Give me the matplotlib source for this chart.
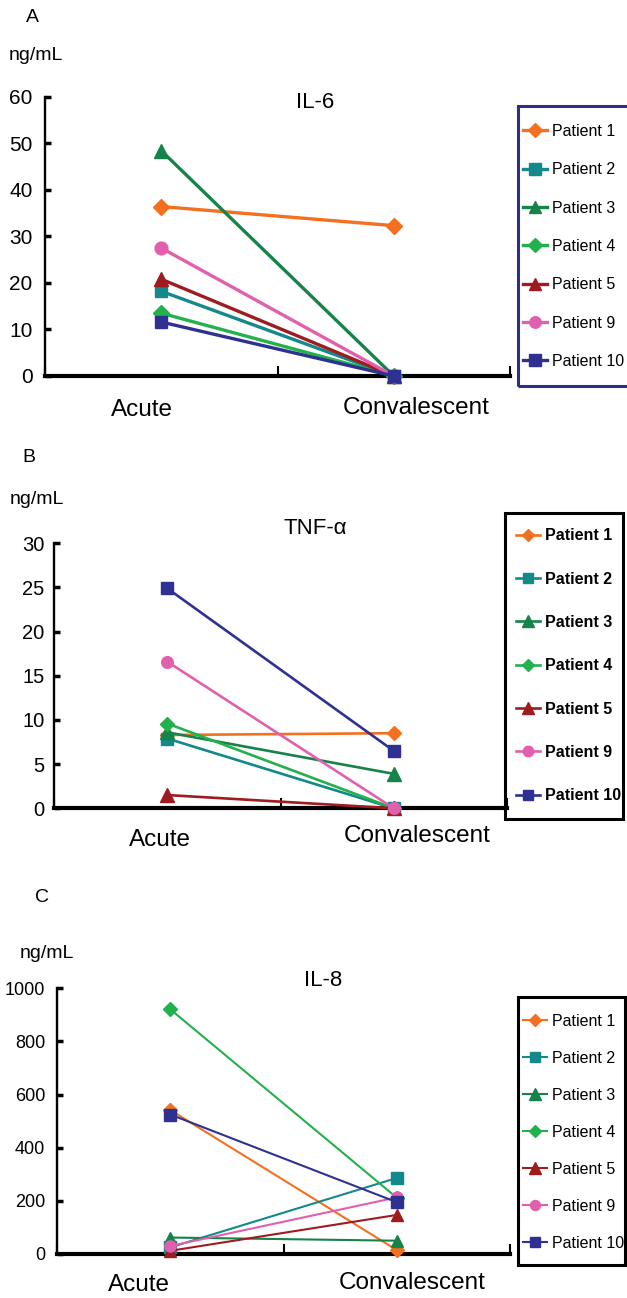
import matplotlib
matplotlib.use("Agg")
import matplotlib.pyplot as plt
from matplotlib.patches import Rectangle

plt.rcParams['font.family'] = ['Liberation Sans', 'DejaVu Sans']

# data (ng/mL)
categories = ["Acute", "Convalescent"]
patients = ["Patient 1", "Patient 2", "Patient 3", "Patient 4", "Patient 5", "Patient 9", "Patient 10"]
colors = ["#F37021", "#13898B", "#16834A", "#22B14C", "#9E1B1F", "#E060AE", "#2E3192"]
markers = ["D", "s", "^", "D", "^", "o", "s"]

il6_acute = [36.4, 18.2, 48.4, 13.5, 20.8, 27.5, 11.6]
il6_conv = [32.3, 0, 0, 0, 0, 0, 0]
tnf_acute = [8.3, 7.9, 8.6, 9.6, 1.5, 16.6, 24.9]
tnf_conv = [8.5, 0, 3.9, 0, 0, 0, 6.5]
il8_acute = [542, 25, 62, 921, 12, 30, 525]
il8_conv = [15, 286, 50, 212, 147, 213, 195]

W, H = 627, 1298
fig = plt.figure(figsize=(W / 100, H / 100), dpi=100)


def px_axes(left, right, top, bottom):
    return fig.add_axes([left / W, 1 - bottom / H, (right - left) / W, (bottom - top) / H])


def panel(box, acute, conv, ymax, ystep, title, title_xy, letter, letter_xy, unit_xy,
          lw, ms_scale, tick_fs, lab_off, legend_box, leg_edge, leg_first, leg_spacing, bold, pad):
    ax = px_axes(*box)
    for i in range(len(patients)):
        ms = 9 if markers[i] == "^" else (7 if markers[i] == "D" else 8)
        ax.plot([0, 1], [acute[i], conv[i]], color=colors[i], marker=markers[i], ms=ms * ms_scale,
                lw=lw, label=patients[i], clip_on=False, zorder=3)
    ax.set_xlim(-0.5, 1.5)
    ax.set_ylim(0, ymax)
    ax.set_yticks(range(0, ymax + 1, ystep))
    ax.set_xticks([-0.5, 0.5, 1.5])
    ax.set_xticklabels([])
    ax.spines['top'].set_visible(False)
    ax.spines['right'].set_visible(False)
    ax.spines['left'].set_linewidth(1.7)
    ax.spines['bottom'].set_linewidth(3)
    ax.tick_params(axis='y', direction='in', length=4, width=2.5, labelsize=tick_fs, pad=pad)
    ax.tick_params(axis='x', direction='in', length=7, width=1.5)
    for i, cat in enumerate(categories):
        dx, dy = lab_off[i]
        ax.annotate(cat, xy=(i, 0), xycoords=('data', 'axes fraction'), xytext=(dx, dy),
                    textcoords='offset pixels', ha='center', va='center', fontsize=17.5)
    fig.text(title_xy[0] / W, 1 - title_xy[1] / H, title, ha='center', va='center', fontsize=16)
    fig.text(letter_xy[0] / W, 1 - letter_xy[1] / H, letter, ha='center', va='center', fontsize=14)
    fig.text(unit_xy[0] / W, 1 - unit_xy[1] / H, "ng/mL", ha='left', va='center', fontsize=14)

    # legend frame and entries
    lx0, ly0, lx1, ly1 = legend_box
    fig.patches.append(Rectangle((lx0 / W, 1 - ly1 / H), (lx1 - lx0) / W, (ly1 - ly0) / H,
                                 transform=fig.transFigure, fill=False, edgecolor=leg_edge,
                                 lw=2.2, zorder=5))
    fs = 11.5
    ax.legend(loc='upper left', bbox_to_anchor=(leg_first[0] / W, 1 - leg_first[1] / H),
              bbox_transform=fig.transFigure, frameon=False, borderpad=0, borderaxespad=0,
              handlelength=1.5, handletextpad=0.3, numpoints=1, markerscale=0.9,
              labelspacing=leg_spacing,
              prop={'size': fs, 'weight': 'bold' if bold else 'normal'})
    return ax


panel((45, 510, 96.7, 376), il6_acute, il6_conv, 60, 10, "IL-6", (315, 102), "A", (32, 18),
      (9, 55), 2.4, 1.15, 15, [(-19, -34), (22, -32)], (518, 106, 640, 386), "#2E2E8A",
      (523, 124), 1.46, False, 9)

panel((54, 507, 543.3, 808.3), tnf_acute, tnf_conv, 30, 5, "TNF-\u03b1", (315, 528), "B", (29, 458),
      (10, 500), 1.9, 1.05, 14.5, [(-7, -32), (23, -28)], (505, 512.7, 622.7, 819), "black",
      (516, 528.5), 1.77, True, 7)

panel((57, 510, 988.3, 1254), il8_acute, il8_conv, 1000, 200, "IL-8", (323, 980), "C", (42, 897),
      (20, 953), 1.5, 1.0, 13, [(-31, -31), (15, -29)], (518, 996.7, 625, 1265), "black",
      (523, 1013.5), 1.38, False, 8.5)

fig.savefig("out.png", dpi=100)
